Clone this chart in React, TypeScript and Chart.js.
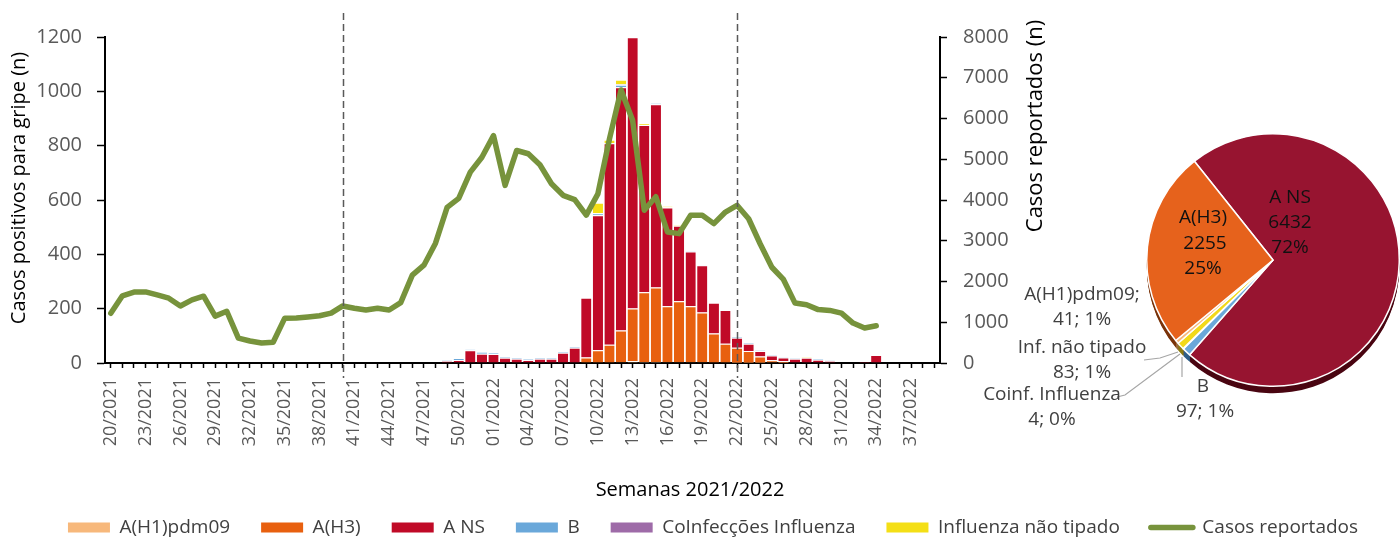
import React, { useEffect, useRef } from 'react';
import { Chart, registerables } from 'chart.js';

Chart.register(...registerables);

// ---------- DATA ----------
const weeks: string[] = [
  '20/2021', '21/2021', '22/2021', '23/2021', '24/2021', '25/2021', '26/2021', '27/2021', '28/2021', '29/2021', '30/2021', '31/2021',
  '32/2021', '33/2021', '34/2021', '35/2021', '36/2021', '37/2021', '38/2021', '39/2021', '40/2021', '41/2021', '42/2021', '43/2021',
  '44/2021', '45/2021', '46/2021', '47/2021', '48/2021', '49/2021', '50/2021', '51/2021', '52/2021', '01/2022', '02/2022', '03/2022',
  '04/2022', '05/2022', '06/2022', '07/2022', '08/2022', '09/2022', '10/2022', '11/2022', '12/2022', '13/2022', '14/2022', '15/2022',
  '16/2022', '17/2022', '18/2022', '19/2022', '20/2022', '21/2022', '22/2022', '23/2022', '24/2022', '25/2022', '26/2022', '27/2022',
  '28/2022', '29/2022', '30/2022', '31/2022', '32/2022', '33/2022', '34/2022', '35/2022', '36/2022', '37/2022', '38/2022', '39/2022',
];

const aH1pdm09: number[] = [
  0, 0, 0, 0, 0, 0, 0, 0, 0, 0, 0, 0,
  0, 0, 0, 0, 0, 0, 0, 0, 0, 0, 0, 0,
  0, 0, 0, 0, 0, 0, 0, 0, 0, 0, 0, 0,
  0, 0, 0, 0, 0, 0, 2, 2, 3, 6, 4, 4,
  3, 3, 3, 3, 2, 2, 1, 1, 1, 0, 1, 0,
  0, 0, 0, 0, 0, 0, 0, 0, 0, 0, 0, 0,
];
const aH3: number[] = [
  0, 0, 0, 0, 0, 0, 0, 0, 0, 0, 0, 0,
  0, 0, 0, 0, 0, 0, 0, 0, 0, 0, 0, 0,
  0, 0, 0, 0, 0, 0, 0, 0, 0, 0, 0, 0,
  0, 0, 0, 0, 0, 20, 45, 65, 117, 195, 256, 274,
  206, 224, 206, 183, 107, 69, 55, 43, 23, 10, 6, 0,
  0, 0, 0, 0, 0, 0, 0, 0, 0, 0, 0, 0,
];
const aNS: number[] = [
  0, 0, 0, 0, 0, 0, 0, 0, 0, 0, 0, 0,
  0, 0, 0, 0, 0, 0, 0, 0, 0, 0, 0, 0,
  0, 0, 0, 0, 0, 7, 11, 47, 34, 33, 19, 16,
  11, 16, 16, 38, 56, 220, 497, 742, 895, 998, 616, 674,
  363, 278, 201, 174, 113, 124, 37, 27, 20, 18, 13, 16,
  19, 12, 7, 0, 0, 5, 29, 0, 0, 0, 0, 0,
];
const fluB: number[] = [
  0, 0, 0, 0, 0, 0, 0, 0, 0, 0, 0, 0,
  0, 0, 0, 0, 0, 0, 0, 0, 0, 0, 0, 0,
  0, 0, 0, 0, 0, 3, 7, 3, 7, 4, 4, 3,
  3, 3, 3, 4, 4, 0, 7, 1, 9, 1, 0, 4,
  1, 0, 3, 1, 0, 0, 4, 3, 3, 3, 2, 2,
  0, 3, 2, 0, 0, 0, 0, 0, 0, 0, 0, 0,
];
const coinfeccoes: number[] = [
  0, 0, 0, 0, 0, 0, 0, 0, 0, 0, 0, 0,
  0, 0, 0, 0, 0, 0, 0, 0, 0, 0, 0, 0,
  0, 0, 0, 0, 0, 0, 0, 0, 0, 0, 0, 0,
  0, 0, 0, 0, 0, 0, 1, 0, 2, 0, 0, 1,
  0, 0, 0, 0, 0, 0, 0, 0, 0, 0, 0, 0,
  0, 0, 0, 0, 0, 0, 0, 0, 0, 0, 0, 0,
];
const naoTipado: number[] = [
  0, 0, 0, 0, 0, 0, 0, 0, 0, 0, 0, 0,
  0, 0, 0, 0, 0, 0, 0, 0, 0, 0, 0, 0,
  0, 0, 0, 0, 0, 0, 0, 0, 0, 0, 0, 0,
  0, 0, 0, 0, 0, 0, 38, 12, 17, 0, 6, 0,
  4, 3, 0, 0, 0, 0, 0, 0, 0, 0, 0, 0,
  3, 0, 0, 0, 0, 0, 0, 0, 0, 0, 0, 0,
];
const casosReportados: (number | null)[] = [
  1220, 1650, 1740, 1745, 1670, 1590, 1400, 1550, 1640, 1150, 1270, 610,
  540, 490, 510, 1100, 1105, 1130, 1160, 1225, 1400, 1345, 1300, 1345,
  1300, 1480, 2155, 2400, 2940, 3820, 4040, 4685, 5050, 5580, 4360, 5215,
  5135, 4865, 4400, 4115, 4010, 3630, 4150, 5500, 6700, 5950, 3750, 4080,
  3215, 3175, 3625, 3625, 3420, 3705, 3870, 3540, 2920, 2350, 2050, 1470,
  1430, 1310, 1290, 1225, 980, 860, 915, null, null, null, null, null,
];

const seriesNames: string[] = [
  'A(H1)pdm09', 'A(H3)', 'A NS', 'B', 'CoInfecções Influenza', 'Influenza não tipado', 'Casos reportados',
];
const dashedWeeks: string[] = ['40/2021', '22/2022'];

const leftTicks: number[] = [0, 200, 400, 600, 800, 1000, 1200];
const rightTicks: number[] = [0, 1000, 2000, 3000, 4000, 5000, 6000, 7000, 8000];

const pieLabels: string[] = ['A NS', 'B', 'Coinf. Influenza', 'Inf. não tipado', 'A(H1)pdm09', 'A(H3)'];
const pieValues: number[] = [6432, 97, 4, 83, 41, 2255];
const piePercents: string[] = ['72%', '1%', '0%', '1%', '1%', '25%'];

// ---------- STYLE ----------
const FONT = "'Open Sans', sans-serif";
const barColors = ['#F7B87B', '#E8600F', '#C00A27', '#6AA8DA', '#9E6BA8', '#F4DF16'];
const lineColor = '#77933C';
const pieColors = ['#971430', '#6AA8DA', '#9E6BA8', '#F2D91A', '#F7B87B', '#E6621C'];
const pieDepthColors = ['#4A0612', '#2F5F88', '#5A3A62', '#8A7A10', '#9A6A3A', '#7A3309'];

const overlayPlugin = {
  id: 'overlay',
  afterDatasetsDraw(chart: any) {
    const { ctx } = chart;
    const xs = chart.scales.x;
    ctx.save();
    ctx.strokeStyle = '#595959';
    ctx.lineWidth = 1.5;
    ctx.setLineDash([7, 4]);
    dashedWeeks.forEach((w) => {
      const px = Math.round(xs.getPixelForValue(weeks.indexOf(w))) + 0.5;
      ctx.beginPath();
      ctx.moveTo(px, 13);
      ctx.lineTo(px, 378);
      ctx.stroke();
    });
    ctx.restore();
  },
  afterDraw(chart: any) {
    const { ctx } = chart;
    ctx.save();
    ctx.fillStyle = '#000';
    ctx.textAlign = 'center';
    ctx.textBaseline = 'middle';
    ctx.font = `20px ${FONT}`;
    ctx.save();
    ctx.translate(19, 188);
    ctx.rotate(-Math.PI / 2);
    ctx.fillText('Casos positivos para gripe (n)', 0, 0);
    ctx.restore();
    ctx.font = `22px ${FONT}`;
    ctx.save();
    ctx.translate(1036, 126);
    ctx.rotate(-Math.PI / 2);
    ctx.fillText('Casos reportados (n)', 0, 0);
    ctx.restore();
    ctx.font = `20px ${FONT}`;
    ctx.fillText('Semanas 2021/2022', 690, 490);
    ctx.restore();
  },
};

const pieDepthPlugin = {
  id: 'pieDepth',
  beforeDatasetsDraw(chart: any) {
    const { ctx } = chart;
    const meta = chart.getDatasetMeta(0);
    ctx.save();
    for (let k = 7; k >= 1; k--) {
      meta.data.forEach((arc: any, i: number) => {
        const p = arc.getProps(['x', 'y', 'startAngle', 'endAngle', 'outerRadius'], true);
        ctx.beginPath();
        ctx.moveTo(p.x, p.y + k);
        ctx.arc(p.x, p.y + k, p.outerRadius, p.startAngle, p.endAngle);
        ctx.closePath();
        ctx.fillStyle = pieDepthColors[i];
        ctx.fill();
      });
    }
    ctx.restore();
  },
};

const pieLabelPlugin = {
  id: 'pieLabels',
  afterDatasetsDraw(chart: any) {
    const { ctx } = chart;
    const arc0 = chart.getDatasetMeta(0).data[0];
    const cx = arc0.x;
    const cy = arc0.y;
    const v = (i: number) => String(pieValues[i]);
    ctx.save();
    ctx.textAlign = 'center';
    ctx.textBaseline = 'middle';
    ctx.font = `19px ${FONT}`;
    ctx.fillStyle = '#111';
    [[pieLabels[0], 17, -62], [v(0), 17, -37], [piePercents[0], 17, -12],
     [pieLabels[5], -70, -42], [v(5), -68, -16], [piePercents[5], -70, 9]].forEach(([t, dx, dy]: any) => {
      ctx.fillText(t, cx + dx, cy + dy);
    });
    ctx.strokeStyle = '#a6a6a6';
    ctx.lineWidth = 1.2;
    const lines = [
      [[-129, 100], [-113, 98], [-95, 92]],
      [[-156, 137], [-148, 135], [-93, 94]],
      [[-91, 97], [-91, 117]],
    ];
    lines.forEach((pts) => {
      ctx.beginPath();
      pts.forEach(([dx, dy], j) => (j === 0 ? ctx.moveTo(cx + dx, cy + dy) : ctx.lineTo(cx + dx, cy + dy)));
      ctx.stroke();
    });
    ctx.fillStyle = '#404040';
    const outside: any[] = [
      [pieLabels[4] + ';', -191, 35], [`${v(4)}; ${piePercents[4]}`, -191, 60],
      [pieLabels[3], -191, 88], [`${v(3)}; ${piePercents[3]}`, -191, 113],
      [pieLabels[2], -221, 135], [`${v(2)}; ${piePercents[2]}`, -221, 160],
      [pieLabels[1], -70, 127], [`${v(1)}; ${piePercents[1]}`, -68, 152],
    ];
    outside.forEach(([t, dx, dy]) => ctx.fillText(t, cx + dx, cy + dy));
    ctx.restore();
  },
};

export default function App() {
  const mainRef = useRef<HTMLCanvasElement>(null);
  const pieRef = useRef<HTMLCanvasElement>(null);

  useEffect(() => {
    const barData = [aH1pdm09, aH3, aNS, fluB, coinfeccoes, naoTipado];
    const datasets: any[] = barData.map((d, i) => ({
      type: 'bar',
      label: seriesNames[i],
      data: d,
      backgroundColor: barColors[i],
      borderColor: '#ffffff',
      borderWidth: { top: 1, left: 0, right: 0, bottom: 0 },
      yAxisID: 'y',
      stack: 'flu',
      order: 1,
      barPercentage: 0.88,
      categoryPercentage: 1,
    }));
    datasets.push({
      type: 'line',
      label: seriesNames[6],
      data: casosReportados,
      borderColor: lineColor,
      backgroundColor: lineColor,
      borderWidth: 5.5,
      pointRadius: 0,
      tension: 0,
      borderJoinStyle: 'round',
      borderCapStyle: 'round',
      yAxisID: 'y1',
      order: 0,
    });

    const main = new Chart(mainRef.current as HTMLCanvasElement, {
      type: 'bar',
      data: { labels: weeks, datasets },
      options: {
        animation: false,
        responsive: false,
        events: [],
        layout: { padding: { left: 26, right: 0, top: 37, bottom: -6 } },
        plugins: {
          tooltip: { enabled: false },
          legend: {
            position: 'bottom',
            labels: {
              usePointStyle: true,
              pointStyleWidth: 42,
              boxHeight: 10,
              padding: 31,
              color: '#404040',
              font: { family: FONT, size: 19 },
              sort: (a: any, b: any) => a.datasetIndex - b.datasetIndex,
              generateLabels: (chart: any) => {
                const items = (Chart.defaults.plugins.legend.labels as any).generateLabels(chart);
                return items.map((it: any) => {
                  const ds = chart.data.datasets[it.datasetIndex];
                  if (ds.type === 'line') {
                    return { ...it, pointStyle: 'line', lineWidth: 5.5, strokeStyle: lineColor, lineCap: 'round' };
                  }
                  return { ...it, pointStyle: 'rect', lineWidth: 0, fillStyle: ds.backgroundColor, strokeStyle: ds.backgroundColor };
                });
              },
            },
          },
        },
        scales: {
          x: {
            stacked: true,
            offset: true,
            grid: { display: true, offset: false, drawOnChartArea: false, drawTicks: true, tickLength: 5, color: '#000', tickWidth: 1.5 },
            border: { display: true, color: '#000', width: 2 },
            ticks: {
              autoSkip: false,
              maxRotation: 90,
              minRotation: 90,
              padding: 10,
              color: '#595959',
              font: { family: FONT, size: 18 },
              callback: (_v: any, i: number) => (i % 3 === 0 ? weeks[i] : ''),
            },
            afterFit: (s: any) => { s.height = 124; },
          },
          y: {
            position: 'left',
            stacked: true,
            min: leftTicks[0],
            max: leftTicks[leftTicks.length - 1],
            afterBuildTicks: (s: any) => { s.ticks = leftTicks.map((v) => ({ value: v })); },
            ticks: { color: '#595959', font: { family: FONT, size: 20 }, padding: 15, callback: (v: any) => String(v) },
            grid: { drawOnChartArea: false, tickLength: 8, color: '#000', tickWidth: 1.5 },
            border: { display: true, color: '#000', width: 2 },
            afterFit: (s: any) => { s.width = 79; },
          },
          y1: {
            position: 'right',
            min: rightTicks[0],
            max: rightTicks[rightTicks.length - 1],
            afterBuildTicks: (s: any) => { s.ticks = rightTicks.map((v) => ({ value: v })); },
            ticks: { color: '#595959', font: { family: FONT, size: 20 }, padding: 16, callback: (v: any) => String(v) },
            grid: { drawOnChartArea: false, tickLength: 7, color: '#000', tickWidth: 1.5 },
            border: { display: true, color: '#000', width: 2 },
            afterFit: (s: any) => { s.width = 460; },
          },
        },
      } as any,
      plugins: [overlayPlugin],
    });

    const pie = new Chart(pieRef.current as HTMLCanvasElement, {
      type: 'pie',
      data: {
        labels: pieLabels,
        datasets: [{ data: pieValues, backgroundColor: pieColors, borderColor: '#ffffff', borderWidth: 1.5 }],
      },
      options: {
        animation: false,
        responsive: false,
        events: [],
        rotation: -38.5,
        layout: { padding: { left: 186, right: 0, top: 23, bottom: 53 } },
        plugins: { legend: { display: false }, tooltip: { enabled: false } },
      } as any,
      plugins: [pieDepthPlugin, pieLabelPlugin],
    });

    return () => {
      main.destroy();
      pie.destroy();
    };
  }, []);

  return (
    <div style={{ position: 'fixed', left: 0, top: 0, width: 1400, height: 541, overflow: 'hidden', background: '#fff' }}>
      <canvas ref={mainRef} width={1400} height={541} style={{ position: 'absolute', left: 0, top: 0 }} />
      <canvas ref={pieRef} width={440} height={330} style={{ position: 'absolute', left: 960, top: 110 }} />
    </div>
  );
}
